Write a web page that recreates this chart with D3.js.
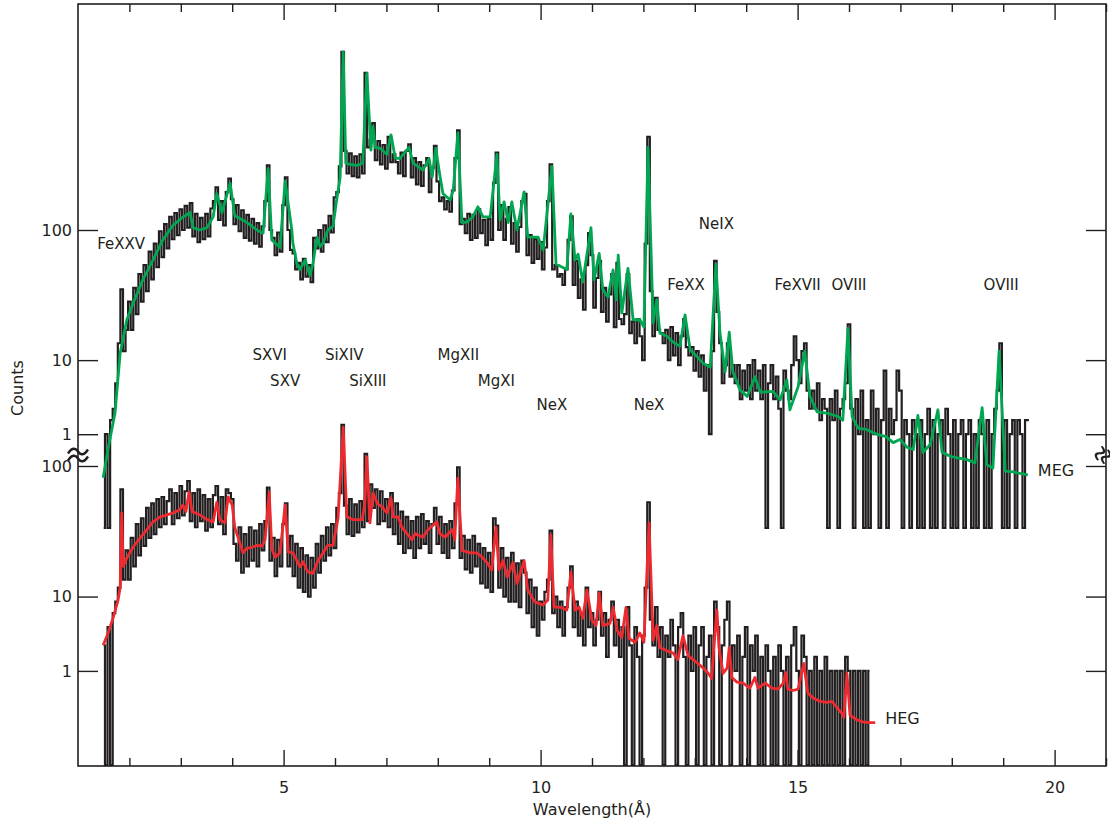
<!DOCTYPE html>
<html>
<head>
<meta charset="utf-8">
<script src="https://cdn.jsdelivr.net/npm/d3@7"></script>
<style>
  body { margin: 0; background: #fff; }
  text { font-family: "DejaVu Sans", sans-serif; fill: #231f20; }
</style>
</head>
<body>
<div id="chart"></div>
<script>
// histogram bins: first bin centre and bin width (Angstrom)
var BIN_START = 1.5,
    BIN_STEP = 0.05;

// MEG observed counts, 1.50 .. 19.50 A
var megCounts = [
    0,1,0,2,3,6,14,37,12,18,
    30,18,38,24,48,30,56,36,70,44,80,54,98,64,110,74,124,86,132,92,
    140,100,148,104,155,90,130,82,122,86,130,90,142,160,200,118,160,108,185,230,
    165,110,150,98,138,88,128,84,120,80,112,76,106,160,285,100,88,66,96,70,
    150,235,100,72,68,52,58,44,62,46,56,42,88,74,100,70,108,82,126,96,
    170,185,280,1750,360,250,345,240,330,235,340,250,1250,380,430,560,310,420,290,395,
    270,450,300,340,300,250,350,240,360,400,235,320,210,300,205,285,320,185,275,390,
    220,160,170,140,160,135,190,320,500,110,120,95,130,85,128,88,140,95,118,78,
    120,85,215,350,100,150,85,120,145,80,112,70,105,160,180,66,92,58,86,62,
    82,52,75,160,290,52,56,46,48,40,52,85,125,40,60,32,44,26,56,95,
    66,27,45,60,25,38,21,34,48,19,58,22,20,24,48,17,21,14,22,16,
    10,80,450,36,16,32,18,17,14,18,10,19,11,17,9,16,22,13,11,13,
    8,12,7,11,5,9,1,12,60,25,14,6,9,14,7,9,6,9,4,8,
    5,9,4,10,5,8,4,9,0,6,9,4,7,3,0,8,5,4,9,16,
    10,6,12,14,5,3,5,3,6,2,4,3,0,4,2,5,0,3,4,6,
    20,3,0,4,1,5,0,2,0,5,1,3,0,2,8,0,3,1,2,8,
    5,0,2,1,0,2,1,0,2,0,1,3,0,2,0,1,2,0,3,1,
    0,2,0,1,2,0,1,2,0,1,0,2,1,0,2,0,1,3,5,14,
    0,2,0,1,2,0,2,1,0,2,2
];

// HEG observed counts, 1.50 .. 16.40 A
var hegCounts = [
    3,0,5,0,7,9,12,68,14,24,
    14,30,18,38,22,42,26,50,30,54,32,58,36,60,38,56,68,38,64,42,
    72,44,66,78,40,64,36,68,40,62,34,58,36,62,72,38,60,32,68,64,
    58,27,20,36,16,32,18,36,20,34,18,38,24,40,70,20,30,15,29,18,
    38,54,18,31,15,27,12,25,11,22,10,21,12,27,16,31,20,36,22,38,
    25,50,64,195,52,32,58,31,53,33,56,36,122,40,74,50,68,38,66,40,
    58,36,64,32,54,27,47,23,43,25,40,21,43,25,45,27,40,23,38,50,
    27,43,23,38,21,40,25,54,98,21,31,17,29,16,31,18,27,13,25,12,
    23,11,42,37,12,25,10,21,9,23,9,19,8,20,16,7,14,5,12,4,
    9,6,11,14,34,7,10,5,9,4,8,12,18,5,9,4,7,3,12,5,
    7,3,6,11,4,7,2,6,9,3,6,2,5,0,8,3,0,5,2,0,
    4,12,55,6,3,8,2,5,0,4,2,6,3,0,5,7,2,0,4,1,
    5,0,3,5,0,2,4,0,9,5,0,3,6,9,0,3,1,4,0,2,
    5,0,3,1,4,0,2,0,3,1,0,2,0,3,1,0,2,0,3,5,
    1,0,4,2,0,1,0,2,0,1,0,2,0,1,0,1,0,1,0,2,
    1,0,1,0,1,0,1,0,1
];

// model fits [wavelength, counts]
var megModel = [
    [1.49,-1.5],[1.58,0.1],[1.72,2.6],[1.82,11.5],[1.95,21.7],[2.07,29],[2.26,43.6],[2.46,61],
    [2.65,85],[2.85,108],[3.02,122],[3.18,133],[3.24,104],[3.37,100],[3.51,104],[3.63,124],
    [3.70,181],[3.80,133],[3.96,214],[4.05,126],[4.29,113],[4.48,100],[4.60,95],[4.70,270],
    [4.77,85],[4.93,75],[5.03,221],[5.16,100],[5.18,81],[5.26,57],[5.32,52],[5.42,61],
    [5.51,47],[5.57,57],[5.65,89],[5.71,76],[5.77,81],[5.86,100],[5.96,106],[6.04,171],
    [6.10,234],[6.16,1750],[6.21,295],[6.29,290],[6.43,285],[6.54,295],[6.62,1240],[6.70,364],
    [6.74,530],[6.78,380],[6.88,375],[7.01,340],[7.09,465],[7.17,322],[7.26,318],[7.44,380],
    [7.52,295],[7.71,264],[7.83,318],[7.89,236],[7.96,375],[8.04,243],[8.10,181],[8.24,163],
    [8.30,191],[8.39,480],[8.47,113],[8.57,114],[8.68,124],[8.78,146],[8.88,124],[9.02,124],
    [9.15,340],[9.21,118],[9.29,158],[9.37,113],[9.44,158],[9.54,100],[9.68,186],[9.75,89],
    [9.95,89],[10.05,72],[10.22,280],[10.30,57],[10.51,52],[10.59,130],[10.67,61],[10.73,67],
    [10.82,42],[10.98,104],[11.04,43.6],[11.14,68],[11.21,36.7],[11.31,32.5],[11.41,51.6],[11.47,31],
    [11.51,66],[11.58,24.5],[11.70,53],[11.80,21.7],[11.93,21.7],[12.01,19],[12.09,380],[12.19,20.5],
    [12.26,31],[12.32,17],[12.46,16],[12.58,14.3],[12.71,13.2],[12.81,23.7],[12.91,12.3],[13.04,10.8],
    [13.16,9.4],[13.30,8.6],[13.41,57],[13.49,17],[13.59,7.8],[13.67,17.3],[13.74,7.8],[13.88,5.1],
    [14.02,4.3],[14.17,7.0],[14.27,4.8],[14.52,4.9],[14.66,3.9],[14.79,6.5],[14.85,2.9],[15.01,5.5],
    [15.14,12],[15.24,4.3],[15.38,2.7],[15.57,2.6],[15.79,2.3],[15.88,2.0],[15.98,18.5],[16.06,2.3],
    [16.18,1.4],[16.35,1.3],[16.54,1.0],[16.72,0.85],[16.86,0.5],[16.99,0.68],[17.13,0.25],[17.25,0.13],
    [17.34,2.4],[17.44,0],[17.58,0.4],[17.73,2.9],[17.81,0],[17.97,-0.2],[18.16,-0.3],[18.30,-0.37],
    [18.45,-0.55],[18.59,3.1],[18.68,-0.65],[18.80,-0.85],[18.92,12],[19.04,-1.05],[19.19,-1.1],[19.48,-1.3]
];

var hegModel = [
    [1.49,3.0],[1.58,4.2],[1.68,6.2],[1.78,9.3],[1.82,12],[1.85,46],[1.88,18],[1.95,21],
    [2.07,25.4],[2.21,30],[2.34,34.5],[2.46,39.5],[2.60,43],[2.73,44.5],[2.85,46],[2.98,48.5],
    [3.04,52.5],[3.10,47],[3.16,65],[3.22,47],[3.37,44.5],[3.51,41],[3.63,39.5],[3.70,55],
    [3.76,41],[3.86,38.8],[3.92,60],[4.00,52.5],[4.05,36],[4.15,27.3],[4.21,23],[4.29,25],
    [4.39,25.4],[4.48,26.3],[4.58,25.9],[4.64,29],[4.72,65],[4.77,25],[4.83,21.3],[4.93,23],
    [5.03,52.5],[5.09,23.4],[5.18,23],[5.32,17.8],[5.38,19.6],[5.47,16.2],[5.57,15.8],[5.67,20],
    [5.77,23],[5.86,26.3],[5.96,26.3],[6.06,42],[6.16,188],[6.23,43],[6.35,41],[6.53,41],
    [6.58,54],[6.62,116],[6.68,38.8],[6.74,64],[6.82,54],[6.91,51],[7.01,46],[7.09,59],
    [7.13,43],[7.23,43],[7.30,36],[7.40,32.3],[7.50,29],[7.56,32.3],[7.71,30.3],[7.81,34.5],
    [7.98,39.5],[8.04,32.3],[8.14,30.3],[8.28,34.5],[8.33,29],[8.39,82],[8.47,24],[8.63,23],
    [8.76,23],[8.86,21.3],[8.96,19.2],[9.05,16.8],[9.13,36],[9.19,16.8],[9.27,20],[9.35,14.7],
    [9.46,19.2],[9.54,13],[9.68,20],[9.75,11.4],[9.89,8.9],[10.05,8.4],[10.14,9.3],[10.20,31.5],
    [10.26,8.0],[10.38,8.0],[10.51,7.5],[10.59,16.2],[10.67,7.5],[10.75,8.0],[10.82,6.2],[10.90,11.4],
    [11.00,5.9],[11.08,5.2],[11.14,10.8],[11.21,5.2],[11.35,5.5],[11.41,8.0],[11.49,4.6],[11.58,3.8],
    [11.66,7.9],[11.72,3.7],[11.84,3.3],[11.93,4.3],[12.01,3.3],[12.11,38.8],[12.19,3.5],[12.26,5.2],
    [12.32,2.8],[12.46,2.5],[12.58,2.3],[12.67,1.8],[12.77,4.0],[12.87,2.1],[12.96,1.8],[13.06,1.5],
    [13.16,1.2],[13.26,0.85],[13.33,0.55],[13.37,2.8],[13.43,7.5],[13.47,2.8],[13.55,0.85],[13.63,1.2],
    [13.67,2.8],[13.72,0.6],[13.82,0.35],[13.94,0.3],[14.07,0.05],[14.17,0.6],[14.23,0.05],[14.37,0.3],
    [14.50,0.05],[14.62,0],[14.72,0.3],[14.77,0.9],[14.81,0],[14.91,-0.07],[15.01,0],[15.12,1.5],
    [15.20,-0.2],[15.30,-0.45],[15.44,-0.65],[15.57,-0.7],[15.67,-0.65],[15.77,-1.05],[15.86,-1.4],[15.90,-1.7],
    [15.96,0.85],[16.02,-1.55],[16.16,-1.9],[16.27,-2.05],[16.41,-2.1],[16.51,-2.1]
];

var countTicks = [100, 10, 1];
var waveTicks = [5, 10, 15, 20];
var waveMinorTicks = [2,3,4,6,7,8,9,11,12,13,14,16,17,18,19,21];

// identified lines: name, wavelength, label row
var lineNames = ['FeXXV','SXVI','SXV','SiXIV','SiXIII','MgXII','MgXI','NeX','NeX','FeXX','NeIX','FeXVII','OVIII','OVIII'];
var lineWaves = [1.84, 4.73, 5.03, 6.18, 6.64, 8.40, 9.14, 10.22, 12.11, 12.83, 13.42, 15.00, 16.00, 18.96];
var lineRows  = ['a','c','d','c','d','c','d','e','e','b','n','b','b','b'];

var W = 1110, H = 819,
    plot = {left: 78, right: 1106, top: 4, bottom: 766},
    rowY = {n: 224, a: 244, b: 285, c: 355, d: 381, e: 405},
    FLOOR = -7,
    ink = '#231f20';

var svg = d3.select('#chart').append('svg')
    .attr('width', W)
    .attr('height', H);

var x = d3.scaleLinear().domain([1, 21]).range([plot.left, plot.right]);

// log-like count axis, one per grating; empty bins fall to the panel floor
var panelScale = function(floorY, topY) {
    return d3.scaleSymlog().constant(3).domain([FLOOR, 100]).range([floorY, topY]);
};
var yMeg = panelScale(528, 230),
    yHeg = panelScale(765, 466);

var toBins = function(counts) {
    return counts.map(function(c, i) { return {w: BIN_START + i*BIN_STEP, c: c}; });
};

var histLine = function(y) {
    return d3.line()
        .curve(d3.curveStep)
        .x(function(d) { return x(d.w); })
        .y(function(d) { return y(d.c > 0 ? d.c : FLOOR); });
};
var modelLine = function(y) {
    return d3.line()
        .x(function(d) { return x(d[0]); })
        .y(function(d) { return y(d[1]); });
};

// axes
var styleAxis = function(g) {
    g.attr('font-family', null).attr('font-size', null);
    g.select('.domain').remove();
    g.selectAll('line').attr('stroke', ink).attr('stroke-width', 1.4);
    g.selectAll('text').style('font-size', '16px').attr('fill', ink);
};

svg.append('g')
    .attr('transform', 'translate(0,' + plot.bottom + ')')
    .call(d3.axisBottom(x).tickValues(waveTicks).tickSize(-16).tickPadding(16).tickFormat(d3.format('d')))
    .call(styleAxis);
svg.append('g')
    .attr('transform', 'translate(0,' + plot.bottom + ')')
    .call(d3.axisBottom(x).tickValues(waveMinorTicks).tickSize(-8).tickFormat(''))
    .call(styleAxis);
svg.append('g')
    .attr('transform', 'translate(0,' + plot.top + ')')
    .call(d3.axisTop(x).tickValues(waveTicks).tickSize(-16).tickFormat(''))
    .call(styleAxis);
svg.append('g')
    .attr('transform', 'translate(0,' + plot.top + ')')
    .call(d3.axisTop(x).tickValues(waveMinorTicks).tickSize(-8).tickFormat(''))
    .call(styleAxis);

[yMeg, yHeg].forEach(function(y) {
    svg.append('g')
        .attr('transform', 'translate(' + plot.left + ',0)')
        .call(d3.axisLeft(y).tickValues(countTicks).tickSize(-20).tickPadding(6).tickFormat(d3.format('d')))
        .call(styleAxis);
    svg.append('g')
        .attr('transform', 'translate(' + plot.right + ',0)')
        .call(d3.axisRight(y).tickValues(countTicks).tickSize(-20).tickFormat(''))
        .call(styleAxis);
});

svg.append('rect')
    .attr('x', plot.left)
    .attr('y', plot.top)
    .attr('width', plot.right - plot.left)
    .attr('height', plot.bottom - plot.top)
    .attr('fill', 'none')
    .attr('stroke', ink)
    .attr('stroke-width', 1.6);

// axis break marks: two wavy strokes across each vertical axis
var breakMark = 'M-11,2 C-7,-4 -3,-4 0,0 S7,4 11,-2';
[[plot.left, 0, 10], [plot.right - 3, -60, 7]].forEach(function(b) {
    var g = svg.append('g')
        .attr('transform', 'translate(' + b[0] + ',455) rotate(' + b[1] + ')');
    [-3.5, 3.5].forEach(function(dy) {
        g.append('path')
            .attr('d', breakMark)
            .attr('transform', 'translate(0,' + dy + ') scale(' + (b[2] / 11) + ',1)')
            .attr('fill', 'none')
            .attr('stroke', ink)
            .attr('stroke-width', 2.6);
    });
});

// spectra
svg.append('path')
    .datum(toBins(megCounts))
    .attr('d', histLine(yMeg))
    .attr('fill', 'none')
    .attr('stroke', ink)
    .attr('stroke-width', 2.2);
svg.append('path')
    .datum(toBins(hegCounts))
    .attr('d', histLine(yHeg))
    .attr('fill', 'none')
    .attr('stroke', ink)
    .attr('stroke-width', 2.2);

svg.append('path')
    .datum(megModel)
    .attr('d', modelLine(yMeg))
    .attr('fill', 'none')
    .attr('stroke', '#00a651')
    .attr('stroke-width', 2.8)
    .attr('stroke-linejoin', 'round');
svg.append('path')
    .datum(hegModel)
    .attr('d', modelLine(yHeg))
    .attr('fill', 'none')
    .attr('stroke', '#ed2a2f')
    .attr('stroke-width', 2.8)
    .attr('stroke-linejoin', 'round');

// line identifications
svg.append('g').selectAll('text')
    .data(lineNames)
    .enter()
    .append('text')
    .attr('x', function(d, i) { return x(lineWaves[i]); })
    .attr('y', function(d, i) { return rowY[lineRows[i]]; })
    .attr('text-anchor', 'middle')
    .attr('dominant-baseline', 'central')
    .style('font-size', '15px')
    .text(function(d) { return d; });

// grating names at the end of each model
[['MEG', megModel, yMeg], ['HEG', hegModel, yHeg]].forEach(function(s) {
    var last = s[1][s[1].length - 1];
    svg.append('text')
        .attr('x', x(last[0]) + 10)
        .attr('y', s[2](last[1]) - 4)
        .attr('dominant-baseline', 'central')
        .style('font-size', '16px')
        .text(s[0]);
});

svg.append('text')
    .attr('transform', 'translate(23,388) rotate(-90)')
    .attr('text-anchor', 'middle')
    .style('font-size', '16px')
    .text('Counts');

svg.append('text')
    .attr('x', 592)
    .attr('y', 815)
    .attr('text-anchor', 'middle')
    .style('font-size', '16px')
    .text('Wavelength(\u00c5)');
</script>
</body>
</html>
